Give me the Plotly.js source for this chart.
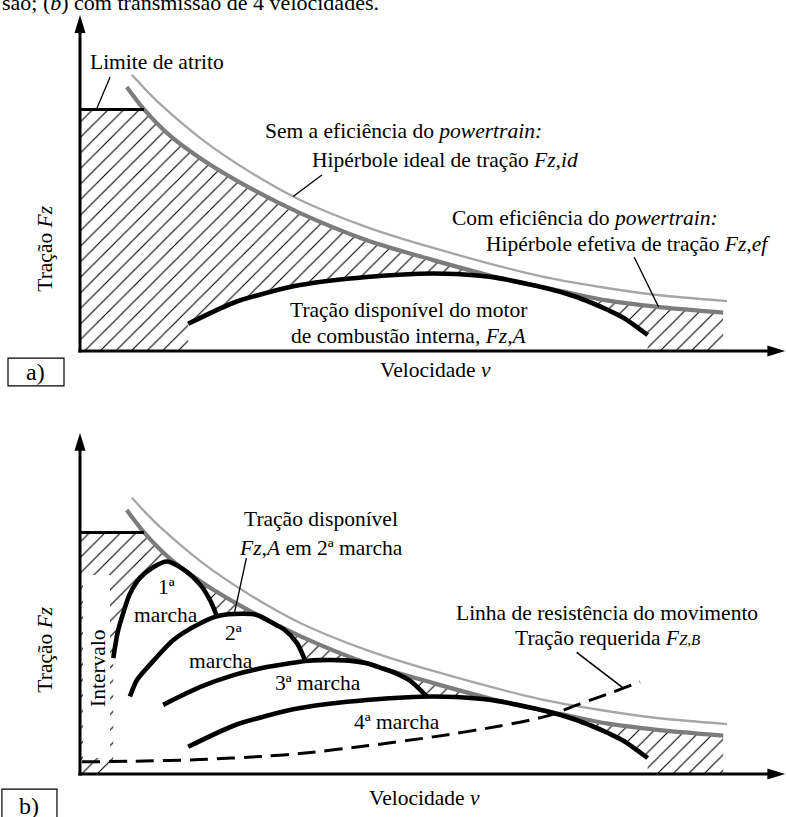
<!DOCTYPE html>
<html><head><meta charset="utf-8">
<script src="https://cdn.plot.ly/plotly-3.0.1.min.js"></script>
<style>html,body{margin:0;padding:0;background:#fff}</style>
</head><body>
<div id="chart" style="width:786px;height:817px"></div>
<script>
// ---------- data (velocity v, traction F, arbitrary units) ----------
const frictionV = [0, 10];
const frictionF = [75.5, 75.5];
// ideal traction hyperbola (without powertrain efficiency)
const idealV = [8.1, 10.0, 12.5, 19.2, 26.6, 34.4, 44.7, 55.2, 71.9, 81.3, 90.2, 101.1];
const idealF = [86.3, 82.2, 77.2, 65.9, 55.9, 47.2, 38.8, 32.2, 23.4, 20.0, 17.5, 15.6];
// effective traction hyperbola (with powertrain efficiency)
const effV = [7.3, 10.0, 14.1, 19.2, 26.6, 34.4, 44.7, 55.2, 65.6, 75.0, 82.3, 90.2, 100.5];
const effF = [82.5, 75.5, 67.2, 59.7, 50.9, 43.1, 34.7, 28.4, 22.8, 18.8, 15.8, 13.8, 12.0];
// available traction of the engine, gears 1..4 (gear 4 = Fz,A of panel a)
const gear1V = [5.2, 5.9, 6.8, 7.8, 9.4, 11.5, 13.6, 16.1, 18.8, 20.3, 21.4];
const gear1F = [36.2, 44.4, 50.6, 56.3, 61.3, 64.7, 66.4, 64.0, 59.1, 54.4, 49.3];
const gear2V = [7.8, 8.9, 10.9, 14.6, 18.8, 21.4, 24.0, 27.6, 30.7, 31.8, 33.9, 35.2];
const gear2F = [24.2, 29.4, 34.1, 41.9, 47.1, 49.3, 50.0, 49.7, 46.5, 45.3, 40.9, 35.3];
const gear3V = [13.0, 18.8, 24.0, 29.2, 34.4, 35.2, 37.5, 41.4, 44.8, 47.4, 49.2, 51.6, 54.2];
const gear3F = [21.6, 27.2, 30.9, 33.4, 35.1, 35.3, 35.6, 35.5, 34.6, 32.9, 31.6, 29.1, 24.2];
const gear4V = [16.9, 23.9, 29.2, 34.4, 44.8, 55.2, 62.5, 65.6, 70.3, 72.9, 77.1, 80.0, 82.5, 84.9, 88.7];
const gear4F = [8.5, 15.0, 18.2, 20.6, 23.1, 24.2, 23.5, 22.7, 20.8, 19.6, 17.2, 15.0, 12.8, 10.4, 5.0];
// motion resistance line (required traction Fz,B)
const resistV = [0.3, 8.3, 18.8, 29.2, 34.4, 44.8, 55.2, 65.6, 72.9, 78.1, 83.3, 87.5];
const resistF = [3.8, 4.0, 4.5, 5.6, 6.4, 8.8, 11.6, 15.0, 18.1, 21.9, 25.6, 28.8];

// ---------- styling ----------
const FONT = '"Liberation Serif", "Times New Roman", Tinos, "DejaVu Serif", serif';
const FS = 21.5;
const BLACK = '#000';
const DARKG = '#7c7c7c';
const LIGHTG = '#a6a6a6';
const hatch = {shape: '/', size: 11, solidity: 0.1, fgcolor: '#000'};

// ---------- hatch polygons built from the curves ----------
function hatchPoly(envV, envF) {
  const xs = [0, 0, frictionV[1]], ys = [0, frictionF[0], frictionF[1]];
  effV.forEach((v, i) => { if (v > frictionV[1]) { xs.push(v); ys.push(effF[i]); } });
  xs.push(effV[effV.length - 1]); ys.push(0);
  const n = envV.length;
  xs.push(envV[n - 1]); ys.push(0);
  for (let i = n - 1; i >= 0; i--) { xs.push(envV[i]); ys.push(envF[i]); }
  xs.push(envV[0]); ys.push(0);
  xs.push(0); ys.push(0);
  return [xs, ys];
}
// envelope of the gears (panel b)
const envV = [], envF = [];
gear1V.forEach((v, i) => { envV.push(v); envF.push(gear1F[i]); });
gear2V.forEach((v, i) => { if (v > gear1V[gear1V.length - 1]) { envV.push(v); envF.push(gear2F[i]); } });
gear3V.forEach((v, i) => { if (v > gear2V[gear2V.length - 1]) { envV.push(v); envF.push(gear3F[i]); } });
gear4V.forEach((v, i) => { if (v > gear3V[gear3V.length - 1]) { envV.push(v); envF.push(gear4F[i]); } });

const [hTx, hTy] = hatchPoly(gear4V, gear4F);
const [hBx, hBy] = hatchPoly(envV, envF);

function line(x, y, ya, color, width, extra) {
  return Object.assign({type: 'scatter', mode: 'lines', x: x, y: y, yaxis: ya, hoverinfo: 'skip',
    line: Object.assign({color: color, width: width, shape: 'spline', smoothing: 0.8}, extra || {})});
}

const traces = [
  {type: 'scatter', mode: 'none', x: hTx, y: hTy, yaxis: 'y', fill: 'toself', fillpattern: hatch, fillcolor: 'rgba(0,0,0,0)', hoverinfo: 'skip'},
  line(idealV, idealF, 'y', LIGHTG, 2.3),
  line(effV, effF, 'y', DARKG, 4.2),
  line(frictionV, frictionF, 'y', BLACK, 3, {shape: 'linear'}),
  line(gear4V, gear4F, 'y', BLACK, 4.6),

  {type: 'scatter', mode: 'none', x: hBx, y: hBy, yaxis: 'y2', fill: 'toself', fillpattern: hatch, fillcolor: 'rgba(0,0,0,0)', hoverinfo: 'skip'},
  line(idealV, idealF, 'y2', LIGHTG, 2.3),
  line(effV, effF, 'y2', DARKG, 4.2),
  line(frictionV, frictionF, 'y2', BLACK, 3, {shape: 'linear'}),
  line(gear1V, gear1F, 'y2', BLACK, 4.6),
  line(gear2V, gear2F, 'y2', BLACK, 4.6),
  line(gear3V, gear3F, 'y2', BLACK, 4.6),
  line(gear4V, gear4F, 'y2', BLACK, 4.6),
  line(resistV, resistF, 'y2', BLACK, 3, {dash: '18px,9px'})
];

// ---------- axes (arrows), boxes ----------
const xTip = 110.2, xHeadL = 2.8, xHeadW = 1.72;
const yHeadL = 5.6, yHeadW = 0.86;
function axisShapes(yref, yTip) {
  return [
    {type: 'line', xref: 'x', yref: yref, x0: 0, x1: 0, y0: -0.5, y1: yTip - yHeadL + 0.5, line: {color: BLACK, width: 3}},
    {type: 'path', xref: 'x', yref: yref, path: `M0,${yTip} L${yHeadW},${yTip - yHeadL} L${-yHeadW},${yTip - yHeadL} Z`, fillcolor: BLACK, line: {width: 0}},
    {type: 'line', xref: 'x', yref: yref, x0: -0.25, x1: xTip - xHeadL + 0.3, y0: 0, y1: 0, line: {color: BLACK, width: 3}},
    {type: 'path', xref: 'x', yref: yref, path: `M${xTip},0 L${xTip - xHeadL},${xHeadW} L${xTip - xHeadL},${-xHeadW} Z`, fillcolor: BLACK, line: {width: 0}}
  ];
}
// leader lines (from label to curve)
function leader(yref, x0, y0, x1, y1, w) {
  return {type: 'line', xref: 'x', yref: yref, x0: x0, y0: y0, x1: x1, y1: y1, layer: 'above',
    line: {color: BLACK, width: w || 1.3}};
}
const shapes = [
  // "Intervalo" column mask
  {type: 'rect', xref: 'x', yref: 'y2', x0: 0.47, x1: 4.69, y0: 5.0, y1: 62.2, fillcolor: '#fff', line: {width: 0}, layer: 'above'},
  ...axisShapes('y', 105),
  ...axisShapes('y2', 106.6),
  {type: 'rect', xref: 'x', yref: 'y', x0: -11.25, x1: -2.5, y0: -2.2, y1: -10.9, line: {color: BLACK, width: 1.2}},
  {type: 'rect', xref: 'x', yref: 'y2', x0: -12.2, x1: -3.6, y0: -4.7, y1: -16, line: {color: BLACK, width: 1.2}},
  leader('y', 4.7, 85.6, 2.66, 75.9),
  leader('y', 37.8, 55.0, 33.3, 48.3),
  leader('y', 86.6, 29.3, 90.4, 13.8),
  leader('y2', 26.0, 67.5, 24.1, 50.0),
  leader('y2', 77.6, 38.0, 84.9, 26.8, 1.6)
];

function txt(text, x, y, yref, opt) {
  return Object.assign({text: text, x: x, y: y, xref: 'x', yref: yref, showarrow: false,
    font: {family: FONT, size: FS, color: BLACK}, xanchor: 'center', yanchor: 'middle'}, opt || {});
}
const annotations = [
  {text: 'são; (<i>b</i>) com transmissão de 4 velocidades.', xref: 'paper', yref: 'paper', x: 0, y: 1 - 17 / 817,
   xanchor: 'left', yanchor: 'bottom', showarrow: false, font: {family: FONT, size: 22, color: BLACK}},
  // panel a
  txt('Limite de atrito', 1.25, 90.3, 'y', {xanchor: 'left'}),
  txt('Sem a eficiência do <i>powertrain:</i>', 28.6, 68.75, 'y', {xanchor: 'left'}),
  txt('Hipérbole ideal de tração <i>Fz,id</i>', 35.9, 59.7, 'y', {xanchor: 'left'}),
  txt('Com eficiência do <i>powertrain:</i>', 57.8, 41.6, 'y', {xanchor: 'left'}),
  txt('Hipérbole efetiva de tração <i>Fz,ef</i>', 63.1, 33.4, 'y', {xanchor: 'left'}),
  txt('Tração disponível do motor', 32.5, 12.8, 'y', {xanchor: 'left'}),
  txt('de combustão interna, <i>Fz,A</i>', 32.6, 4.7, 'y', {xanchor: 'left'}),
  txt('Velocidade <i>v</i>', 55.6, -5.9, 'y'),
  txt('Tração <i>Fz</i>', -5.5, 31.9, 'y', {textangle: -90}),
  txt('a)', -6.9, -6.6, 'y', {font: {family: FONT, size: 24, color: BLACK}}),
  // panel b
  txt('Tração disponível', 37.7, 79.7, 'y2'),
  txt('<i>Fz,A</i> em 2ª marcha', 37.6, 70.6, 'y2'),
  txt('1ª', 13.55, 54.2, 'y2', {yanchor: 'bottom'}),
  txt('marcha', 13.4, 54.2, 'y2', {yanchor: 'top'}),
  txt('2ª', 23.95, 39.8, 'y2', {yanchor: 'bottom'}),
  txt('marcha', 22.0, 39.8, 'y2', {yanchor: 'top'}),
  txt('3ª marcha', 37.2, 28.3, 'y2'),
  txt('4ª marcha', 49.5, 16.3, 'y2'),
  txt('Linha de resistência do movimento', 82.3, 50.2, 'y2'),
  txt('Tração requerida <i>F<span style="font-size:15px">Z,B</span></i>', 82.4, 42.6, 'y2'),
  txt('Intervalo', 2.8, 33.1, 'y2', {textangle: -90}),
  txt('Tração <i>Fz</i>', -5.5, 38.8, 'y2', {textangle: -90}),
  txt('Velocidade <i>v</i>', 53.75, -7.5, 'y2'),
  txt('b)', -8.0, -9.9, 'y2', {font: {family: FONT, size: 24, color: BLACK}})
];

const layout = {
  width: 786, height: 817,
  margin: {l: 0, r: 0, t: 0, b: 0},
  paper_bgcolor: '#fff', plot_bgcolor: '#fff',
  font: {family: FONT, size: FS, color: BLACK},
  showlegend: false,
  xaxis: {domain: [0, 1], range: [-12.5, 110.3125], visible: false, fixedrange: true},
  yaxis: {domain: [0, 1], range: [-145.625, 109.6875], visible: false, fixedrange: true},
  yaxis2: {domain: [0, 1], range: [-13.4375, 241.875], visible: false, overlaying: 'y', fixedrange: true},
  shapes: shapes,
  annotations: annotations
};

Plotly.newPlot('chart', traces, layout, {staticPlot: true, displayModeBar: false});
</script>
</body></html>
